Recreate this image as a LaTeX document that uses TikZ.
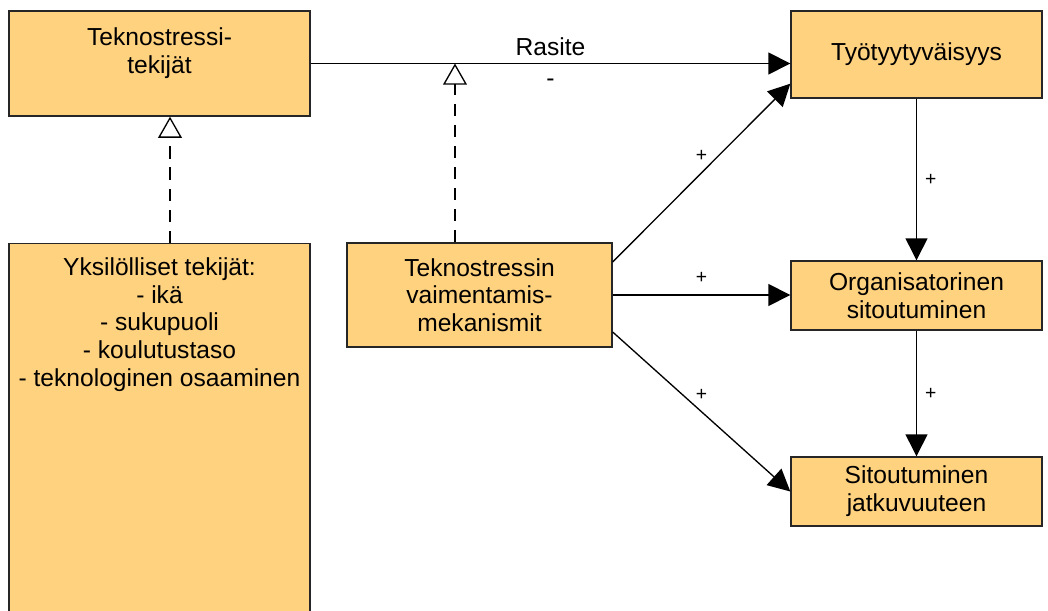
\documentclass[tikz,border=0pt]{standalone}
\usepackage{fontspec}
\setmainfont{Liberation Sans}
\usetikzlibrary{arrows.meta,positioning,calc}
\definecolor{boxfill}{HTML}{FFD280}

\begin{document}
\begin{tikzpicture}[x=0.02cm,y=-0.02cm,font=\fontsize{14}{15.8}\selectfont,
  box/.style={draw=black!85,fill=boxfill,line width=0.8pt,align=center,inner sep=0pt},
  arr/.style={-{Triangle[length=12.5pt,width=12.5pt]},line width=0.75pt},
  real/.style={-{Triangle[open,length=12pt,width=13.5pt,fill=white]},dash pattern=on 7pt off 5pt,line width=0.75pt},
  sign/.style={font=\fontsize{11}{13}\selectfont,inner sep=2pt}]
\useasboundingbox (0,0) rectangle (1048,611);
\node[box,minimum width=6.02cm,minimum height=2.1cm] (tek) at (159.5,63.5) {};
\node[align=center] (tektxt) at (159.5,53) {Teknostressi-\\tekijät};
\node[box,minimum width=6.02cm,minimum height=8cm,anchor=north] (yks) at (159.5,243) {};
\node[align=center] (ykstxt) at (159.5,324.5) {Yksilölliset tekijät:\\- ikä\\- sukupuoli\\- koulutustaso\\- teknologinen osaaminen};
\node[box,minimum width=5.3cm,minimum height=2.08cm] (meka) at (479.5,295) {Teknostressin\\vaimentamis-\\mekanismit};
\node[box,minimum width=5.02cm,minimum height=1.74cm] (tyo) at (916.5,54.5) {Työtyytyväisyys};
\node[box,minimum width=5.02cm,minimum height=1.38cm] (org) at (916.5,295.5) {Organisatorinen\\sitoutuminen};
\node[box,minimum width=5.02cm,minimum height=1.38cm] (sit) at (916.5,491.5) {Sitoutuminen\\jatkuvuuteen};
% main effect
\draw[arr] (tek.east) -- node[above=0.5pt] (rasite) {Rasite} node[below=5pt] (miinus) {-} (tek.east -| tyo.west);
% moderators
\coordinate (rj) at ($(meka.north)+(-24.5,0)$);
\draw[real] (rj) -- (rj |- tek.east);
\coordinate (yj) at ($(yks.north)+(10.5,0)$);
\draw[real] (yj) -- (yj |- tek.south);
% outcomes
\draw[arr] ($(meka.east)+(0,-33)$) -- node[midway,above=4pt,sign] (p1) {+} ($(tyo.south west)+(0,-15)$);
\draw[arr] (meka.east) -- node[midway,above=4pt,sign] (p2) {+} (meka.east -| org.west);
\draw[arr] ($(meka.east)+(0,37)$) -- node[midway,above=4pt,sign] (p3) {+} (sit.west);
\draw[arr] (tyo.south) -- node[midway,right=2.5pt,sign] (p4) {+} (org.north);
\draw[arr] (org.south) -- node[midway,right=2.5pt,sign] (p5) {+} (sit.north);
\end{tikzpicture}
\end{document}
